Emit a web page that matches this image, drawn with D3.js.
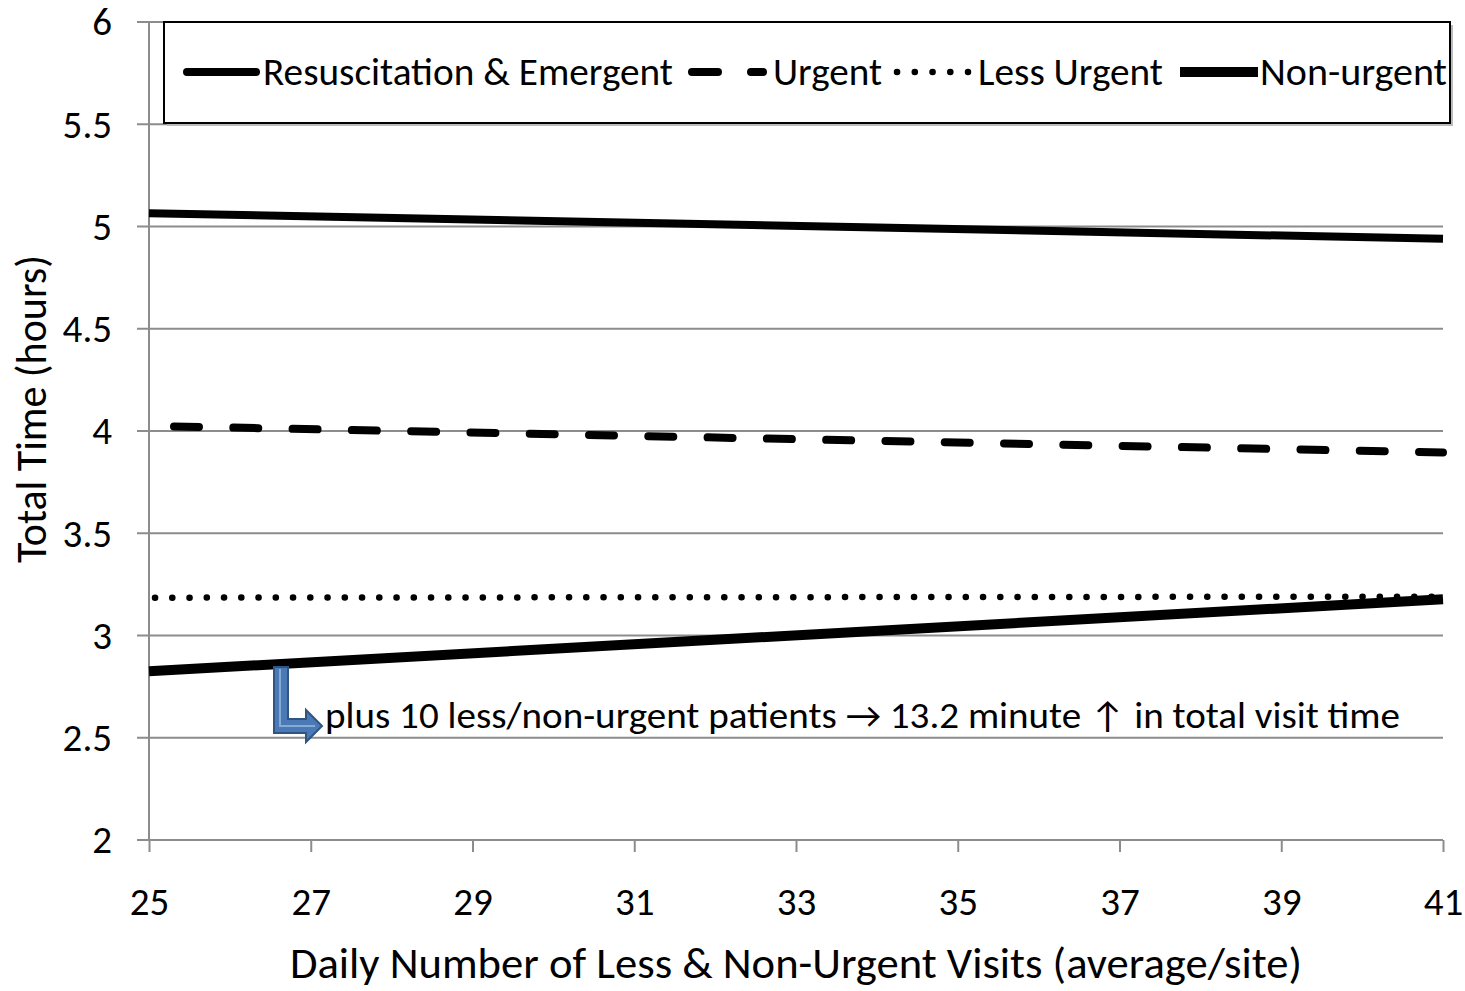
<!DOCTYPE html>
<html>
<head>
<meta charset="utf-8">
<script src="https://cdn.jsdelivr.net/npm/d3@7"></script>
<style>
  body { margin: 0; background: #fff; }
  text { font-family: Carlito, Calibri, Lato, "Open Sans", sans-serif; fill: #000; }
</style>
</head>
<body>
<div id="chart"></div>
<script>
// data
const xTicks = [25, 27, 29, 31, 33, 35, 37, 39, 41];
const yTicks = [2, 2.5, 3, 3.5, 4, 4.5, 5, 5.5, 6];
const seriesNames = ["Resuscitation & Emergent", "Urgent", "Less Urgent", "Non-urgent"];
const visits = [25, 41];
const resusValues = [5.065, 4.94];
const urgentValues = [4.025, 3.895];
const lessUrgentValues = [3.185, 3.19];
const nonUrgentValues = [2.825, 3.177];
const note = "plus 10 less/non-urgent patients \u2192 13.2 minute \u2191 in total visit time";

let dimensions = {
    width: 1465,
    height: 991,
    margin: { top: 22, right: 22, bottom: 151, left: 149 },
}
dimensions.boundedWidth = dimensions.width - dimensions.margin.left - dimensions.margin.right;
dimensions.boundedHeight = dimensions.height - dimensions.margin.top - dimensions.margin.bottom;

const svg = d3.select("#chart")
    .append("svg")
    .attr("width", dimensions.width)
    .attr("height", dimensions.height)
    .append("g")
    .attr("transform", `translate(${dimensions.margin.left}, ${dimensions.margin.top})`);

const x = d3.scaleLinear().domain([25, 41]).range([0, 1294]);
const y = d3.scaleLinear().domain([2, 6]).range([818, 0]);

// gridlines
svg.append("g")
    .selectAll("line")
    .data(yTicks)
    .join("line")
    .attr("x1", -12)
    .attr("x2", x(41))
    .attr("y1", d => y(d))
    .attr("y2", d => y(d))
    .attr("stroke", "#8c8c8c")
    .attr("stroke-width", 2);

// y axis
const yAxis = svg.append("g")
    .call(d3.axisLeft(y).tickValues(yTicks).tickSize(12).tickFormat(d3.format("")));
yAxis.attr("font-size", null).attr("font-family", null);
yAxis.select(".domain").attr("stroke", "#8c8c8c").attr("stroke-width", 2).attr("d", `M0,0V818`);
yAxis.selectAll(".tick line").remove();
yAxis.selectAll(".tick text")
    .attr("x", -37)
    .attr("dy", "0.33em")
    .style("font-size", "39px")
    .style("font-family", "Carlito, Calibri, Lato, sans-serif");

// x axis
const xAxis = svg.append("g")
    .attr("transform", `translate(0, 818)`)
    .call(d3.axisBottom(x).tickValues(xTicks).tickSize(12));
xAxis.attr("font-size", null).attr("font-family", null);
xAxis.select(".domain").attr("stroke", "#8c8c8c").attr("stroke-width", 2).attr("d", `M0,0H${x(41)}`);
xAxis.selectAll(".tick line").attr("stroke", "#8c8c8c").attr("stroke-width", 2);
xAxis.selectAll(".tick text")
    .attr("y", 62)
    .attr("dy", "0.33em")
    .style("font-size", "39px")
    .style("font-family", "Carlito, Calibri, Lato, sans-serif");

// axis titles
svg.append("text")
    .attr("x", 141)
    .attr("y", 956)
    .attr("textLength", 1012)
    .attr("lengthAdjust", "spacingAndGlyphs")
    .style("font-size", "43px")
    .text("Daily Number of Less & Non-Urgent Visits (average/site)");

svg.append("text")
    .attr("transform", `translate(-103, 387) rotate(-90)`)
    .attr("text-anchor", "middle")
    .attr("textLength", 308)
    .attr("lengthAdjust", "spacingAndGlyphs")
    .style("font-size", "43px")
    .text("Total Time (hours)");

// lines
const styles = [
    { w: 8, dash: null, offset: 0, cap: "butt" },
    { w: 8, dash: "25 34.3", offset: -25, cap: "round" },
    { w: 6.5, dash: "0.1 17.15", offset: -6, cap: "round" },
    { w: 10, dash: null, offset: 0, cap: "butt" },
];
const allValues = [resusValues, urgentValues, lessUrgentValues, nonUrgentValues];
const line = d3.line().x((d, i) => x(visits[i])).y(d => y(d));

svg.append("g")
    .selectAll("path")
    .data(allValues)
    .join("path")
    .attr("d", d => line(d))
    .attr("fill", "none")
    .attr("stroke", "#000")
    .attr("stroke-width", (d, i) => styles[i].w)
    .attr("stroke-dasharray", (d, i) => styles[i].dash)
    .attr("stroke-dashoffset", (d, i) => styles[i].offset)
    .attr("stroke-linecap", (d, i) => styles[i].cap);

// annotation arrow
svg.append("path")
    .attr("d", "M125,645 H139 V697 H157 V688 L173,704 L157,720 V711 H125 Z")
    .attr("fill", "#4a79b5")
    .attr("stroke", "#2f5583")
    .attr("stroke-width", 2);
svg.append("path")
    .attr("d", "M131,647 V704 H166")
    .attr("fill", "none")
    .attr("stroke", "#86a9d6")
    .attr("stroke-width", 2);

svg.append("text")
    .attr("x", 176)
    .attr("y", 706)
    .attr("textLength", 1075)
    .attr("lengthAdjust", "spacingAndGlyphs")
    .style("font-size", "37px")
    .text(note);

// legend
const legend = svg.append("g").attr("transform", `translate(${164 - 149}, 0)`);
legend.append("rect")
    .attr("x", 3).attr("y", 3)
    .attr("width", 1286).attr("height", 101)
    .attr("fill", "#bbb");
legend.append("rect")
    .attr("x", 0).attr("y", 0)
    .attr("width", 1286).attr("height", 101)
    .attr("fill", "#fff")
    .attr("stroke", "#000")
    .attr("stroke-width", 2);

const sampleStart = [23, 528, 733, 1016];
const sampleEnd = [92, 599, 804, 1094];
const legendDash = [null, "26 33 12", "0.1 17.65", null];
const textStart = [99, 609, 814, 1096];
const textWidth = [410, 109, 185, 187];

const items = legend.selectAll("g.item")
    .data(seriesNames)
    .join("g")
    .attr("class", "item")
    .attr("transform", "translate(0, 50)");
items.append("line")
    .attr("x1", (d, i) => sampleStart[i])
    .attr("x2", (d, i) => sampleEnd[i])
    .attr("stroke", "#000")
    .attr("stroke-width", (d, i) => styles[i].w)
    .attr("stroke-dasharray", (d, i) => legendDash[i])
    .attr("stroke-linecap", (d, i) => i === 3 ? "butt" : "round");
items.append("text")
    .attr("x", (d, i) => textStart[i])
    .attr("dy", "0.34em")
    .attr("textLength", (d, i) => textWidth[i])
    .attr("lengthAdjust", "spacingAndGlyphs")
    .style("font-size", "39px")
    .text(d => d);
</script>
</body>
</html>
